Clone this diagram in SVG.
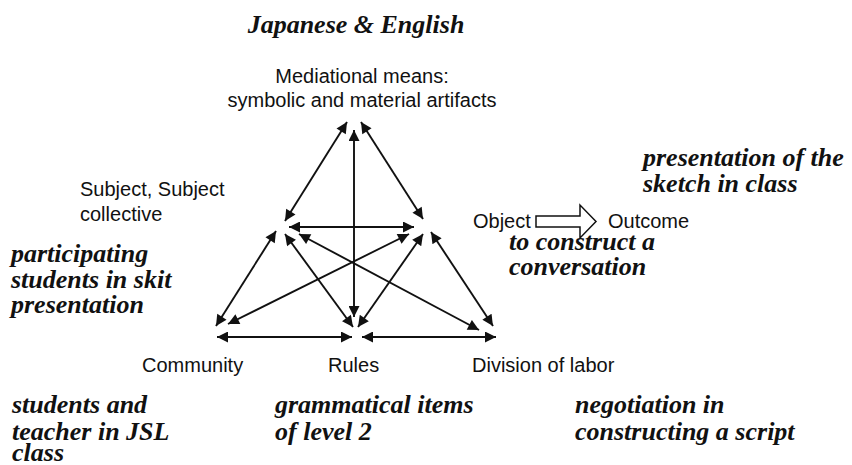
<svg xmlns="http://www.w3.org/2000/svg" width="852" height="465" viewBox="0 0 852 465">
<style>
.sans{font-family:"Liberation Sans",Arial,sans-serif;font-size:20px;fill:#111}
.note{font-family:"Liberation Serif","Times New Roman",serif;font-size:26px;font-weight:bold;font-style:italic;fill:#111}
.c{text-anchor:middle}
.link{stroke:#111;stroke-width:1.9;fill:none;marker-start:url(#ah);marker-end:url(#ah)}
</style>
<defs>
<marker id="ah" viewBox="0 0 10 10" refX="10" refY="5" markerWidth="13" markerHeight="11" markerUnits="userSpaceOnUse" orient="auto-start-reverse">
<path d="M0,0 L10,5 L0,10 z" fill="#111"/>
</marker>
</defs>
<rect width="852" height="465" fill="#fff"/>
<g id="connectors">
<line class="link" x1="347" y1="122" x2="285" y2="221"/>
<line class="link" x1="361" y1="122" x2="423" y2="219"/>
<line class="link" x1="354" y1="130" x2="354" y2="317"/>
<line class="link" x1="289" y1="227" x2="414" y2="227"/>
<line class="link" x1="276" y1="231" x2="216" y2="326"/>
<line class="link" x1="285" y1="234" x2="353" y2="327"/>
<line class="link" x1="299" y1="234" x2="479" y2="330"/>
<line class="link" x1="409" y1="234" x2="228" y2="324"/>
<line class="link" x1="423" y1="234" x2="358" y2="327"/>
<line class="link" x1="431" y1="232" x2="493" y2="326"/>
<line class="link" x1="217" y1="337" x2="352" y2="337"/>
<line class="link" x1="362" y1="337" x2="496" y2="337"/>
<polygon id="object-outcome-arrow" points="536,216 580,216 580,205 596,221.5 580,238 580,227 536,227" fill="#fff" stroke="#111" stroke-width="1.5"/>
</g>
<g id="title"><text class="note c" x="356" y="33">Japanese &amp; English</text></g>
<g id="mediational-means">
<text class="sans c" x="362" y="83">Mediational means:</text>
<text class="sans c" x="362" y="107">symbolic and material artifacts</text>
</g>
<g id="subject">
<text class="sans" x="80" y="196">Subject, Subject</text>
<text class="sans" x="80" y="221">collective</text>
</g>
<g id="object"><text class="sans" x="473" y="228">Object</text></g>
<g id="outcome"><text class="sans" x="608" y="228">Outcome</text></g>
<g id="community"><text class="sans" x="142" y="372">Community</text></g>
<g id="rules"><text class="sans" x="328" y="372">Rules</text></g>
<g id="division"><text class="sans" x="472" y="372">Division of labor</text></g>
<g id="outcome-note">
<text class="note" x="643" y="166">presentation of the</text>
<text class="note" x="643" y="192">sketch in class</text>
</g>
<g id="object-note">
<text class="note" x="509" y="250">to construct a</text>
<text class="note" x="509" y="275">conversation</text>
</g>
<g id="subject-note">
<text class="note" x="11" y="262">participating</text>
<text class="note" x="11" y="288">students in skit</text>
<text class="note" x="11" y="313">presentation</text>
</g>
<g id="community-note">
<text class="note" x="12" y="413">students and</text>
<text class="note" x="12" y="440">teacher in JSL</text>
<text class="note" x="12" y="461">class</text>
</g>
<g id="rules-note">
<text class="note" x="275" y="413">grammatical items</text>
<text class="note" x="275" y="440">of level 2</text>
</g>
<g id="division-note">
<text class="note" x="575" y="413">negotiation in</text>
<text class="note" x="575" y="440">constructing a script</text>
</g>
</svg>
